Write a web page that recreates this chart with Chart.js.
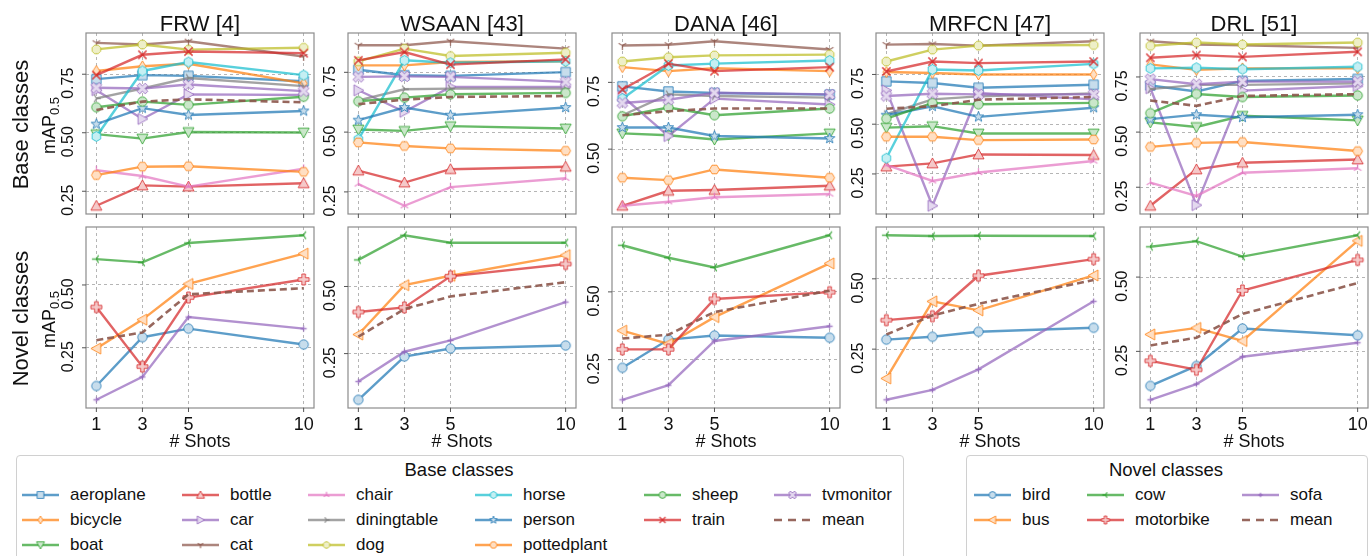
<!DOCTYPE html>
<html>
<head>
<meta charset="utf-8">
<script src="https://cdn.jsdelivr.net/npm/chart.js@4.4.1/dist/chart.umd.min.js"></script>
<style>
  body { margin: 0; width: 1369px; height: 556px; overflow: hidden; position: relative; background: #fff;
         font-family: "Liberation Sans", Arial, sans-serif; color: #111; }
  canvas.panel { position: absolute; }
  .lbox { position: absolute; border: 1px solid #d0d0d0; border-radius: 4px; background: #fff; }
  .ltxt { position: absolute; font-size: 17px; line-height: 20px; white-space: nowrap; }
  .ltitle { position: absolute; font-size: 18.5px; line-height: 22px; white-space: nowrap; text-align: center; }
  canvas.sym { position: absolute; }
</style>
</head>
<body>
<script>
// ---- data ----
const shots = [1, 3, 5, 10];
const xTickLabels = ['1', '3', '5', '10'];
const yTicks = [0.25, 0.5, 0.75];
const yTickLabels = ['0.25', '0.50', '0.75'];
const methods = ['FRW [4]', 'WSAAN [43]', 'DANA [46]', 'MRFCN [47]', 'DRL [51]'];
const baseClasses = ['aeroplane', 'bicycle', 'boat', 'bottle', 'car', 'cat', 'chair', 'diningtable',
  'dog', 'horse', 'person', 'pottedplant', 'sheep', 'train', 'tvmonitor', 'mean'];
const novelClasses = ['bird', 'bus', 'cow', 'motorbike', 'sofa', 'mean'];

// one row per base class (same order as baseClasses), values at 1/3/5/10 shots
const frwBase = [
  [0.729, 0.746, 0.743, 0.720], [0.764, 0.784, 0.795, 0.711], [0.494, 0.475, 0.503, 0.501],
  [0.188, 0.275, 0.270, 0.284], [0.682, 0.559, 0.664, 0.661], [0.884, 0.877, 0.891, 0.826],
  [0.340, 0.315, 0.270, 0.346], [0.647, 0.689, 0.734, 0.699], [0.856, 0.877, 0.855, 0.863],
  [0.484, 0.764, 0.802, 0.746], [0.537, 0.605, 0.576, 0.593], [0.319, 0.355, 0.357, 0.333],
  [0.609, 0.633, 0.619, 0.654], [0.746, 0.833, 0.847, 0.840], [0.692, 0.689, 0.706, 0.678],
  [0.597, 0.633, 0.643, 0.630]
];
const wsaanBase = [
  [0.761, 0.738, 0.735, 0.751], [0.779, 0.779, 0.793, 0.796], [0.511, 0.505, 0.525, 0.515],
  [0.339, 0.289, 0.345, 0.355], [0.675, 0.585, 0.689, 0.689], [0.863, 0.863, 0.880, 0.849],
  [0.283, 0.192, 0.270, 0.307], [0.633, 0.679, 0.682, 0.682], [0.796, 0.849, 0.818, 0.832],
  [0.470, 0.800, 0.790, 0.796], [0.550, 0.603, 0.571, 0.603], [0.457, 0.442, 0.432, 0.422],
  [0.629, 0.644, 0.658, 0.664], [0.800, 0.835, 0.782, 0.804], [0.731, 0.733, 0.731, 0.710],
  [0.617, 0.636, 0.647, 0.651]
];
const danaBase = [
  [0.735, 0.716, 0.710, 0.704], [0.807, 0.792, 0.803, 0.792], [0.559, 0.552, 0.536, 0.559],
  [0.288, 0.344, 0.347, 0.363], [0.698, 0.549, 0.689, 0.667], [0.888, 0.891, 0.904, 0.873],
  [0.288, 0.303, 0.320, 0.332], [0.627, 0.705, 0.699, 0.693], [0.828, 0.844, 0.851, 0.854],
  [0.689, 0.813, 0.820, 0.832], [0.581, 0.581, 0.549, 0.540], [0.393, 0.384, 0.424, 0.393],
  [0.623, 0.656, 0.627, 0.652], [0.723, 0.820, 0.792, 0.807], [0.673, 0.685, 0.711, 0.705],
  [0.627, 0.642, 0.652, 0.652]
];
const mrfcnBase = [
  [0.715, 0.707, 0.683, 0.698], [0.762, 0.757, 0.750, 0.750], [0.483, 0.490, 0.453, 0.453],
  [0.287, 0.303, 0.348, 0.345], [0.670, 0.090, 0.657, 0.625], [0.900, 0.903, 0.895, 0.917],
  [0.295, 0.215, 0.257, 0.315], [0.550, 0.625, 0.640, 0.655], [0.815, 0.875, 0.895, 0.898],
  [0.329, 0.775, 0.770, 0.803], [0.545, 0.590, 0.537, 0.583], [0.437, 0.437, 0.420, 0.423],
  [0.528, 0.607, 0.600, 0.607], [0.765, 0.815, 0.807, 0.815], [0.642, 0.653, 0.650, 0.650],
  [0.578, 0.590, 0.623, 0.637]
];
const drlBase = [
  [0.711, 0.684, 0.732, 0.741], [0.807, 0.782, 0.789, 0.789], [0.544, 0.523, 0.574, 0.553],
  [0.166, 0.331, 0.361, 0.376], [0.699, 0.169, 0.688, 0.709], [0.912, 0.897, 0.894, 0.882],
  [0.271, 0.211, 0.316, 0.336], [0.695, 0.714, 0.714, 0.721], [0.891, 0.906, 0.897, 0.906],
  [0.789, 0.792, 0.785, 0.796], [0.559, 0.579, 0.567, 0.579], [0.433, 0.451, 0.455, 0.414],
  [0.586, 0.673, 0.659, 0.666], [0.837, 0.849, 0.841, 0.864], [0.740, 0.717, 0.729, 0.729],
  [0.643, 0.619, 0.664, 0.672]
];

// one row per novel class (same order as novelClasses)
const frwNovel = [
  [0.098, 0.292, 0.326, 0.263], [0.247, 0.362, 0.504, 0.625], [0.603, 0.590, 0.667, 0.698],
  [0.412, 0.175, 0.450, 0.522], [0.043, 0.134, 0.372, 0.326], [0.280, 0.311, 0.463, 0.487]
];
const wsaanNovel = [
  [0.078, 0.239, 0.269, 0.280], [0.321, 0.505, 0.540, 0.617], [0.599, 0.691, 0.663, 0.663],
  [0.405, 0.422, 0.538, 0.584], [0.146, 0.257, 0.299, 0.442], [0.313, 0.416, 0.463, 0.516]
];
const danaNovel = [
  [0.220, 0.324, 0.339, 0.331], [0.357, 0.308, 0.407, 0.605], [0.672, 0.626, 0.590, 0.709],
  [0.288, 0.288, 0.474, 0.499], [0.102, 0.156, 0.319, 0.373], [0.328, 0.342, 0.426, 0.504]
];
const mrfcnNovel = [
  [0.284, 0.294, 0.312, 0.326], [0.146, 0.420, 0.388, 0.512], [0.655, 0.652, 0.653, 0.652],
  [0.353, 0.367, 0.511, 0.570], [0.070, 0.105, 0.178, 0.420], [0.302, 0.370, 0.411, 0.496]
];
const drlNovel = [
  [0.134, 0.201, 0.327, 0.304], [0.307, 0.329, 0.285, 0.622], [0.602, 0.621, 0.569, 0.641],
  [0.218, 0.188, 0.455, 0.558], [0.087, 0.140, 0.232, 0.279], [0.270, 0.296, 0.376, 0.480]
];

const baseRows = [frwBase, wsaanBase, danaBase, mrfcnBase, drlBase];
const novelRows = [frwNovel, wsaanNovel, danaNovel, mrfcnNovel, drlNovel];

// ---- styles ----
const tab = {
  blue: [31, 119, 180], orange: [255, 127, 14], green: [44, 160, 44], red: [214, 39, 40],
  purple: [148, 103, 189], brown: [140, 86, 75], pink: [227, 119, 194], gray: [127, 127, 127],
  olive: [188, 189, 34], cyan: [23, 190, 207]
};
const baseColors = ['blue', 'orange', 'green', 'red', 'purple', 'brown', 'pink', 'gray',
  'olive', 'cyan', 'blue', 'orange', 'green', 'red', 'purple', 'brown'];
const baseMarkers = ['s', 'd', 'v', '^', '>', '1', '2', '4', '8', 'h', '*', 'H', 'o', 'x', 'X', ''];
const novelColors = ['blue', 'orange', 'green', 'red', 'purple', 'brown'];
const novelMarkers = ['o', '<', '3', 'P', '+', ''];

const FONT = '"Liberation Sans", Arial, sans-serif';
const colLeft = [86, 348, 612, 876, 1140];
const rowTop = [33, 227];
const PW = 228, PH = 181;

const rgba = (c, a) => `rgba(${c[0]},${c[1]},${c[2]},${a})`;
const tint = c => `rgb(${c.map(v => Math.round(v * 0.25 + 255 * 0.75)).join(',')})`;

// small matplotlib-like markers drawn into canvases, used as Chart.js pointStyle
function marker(shape, rgb, size) {
  const s = Math.ceil(size) + 4;
  const cv = document.createElement('canvas');
  cv.width = cv.height = s;
  const g = cv.getContext('2d');
  const r = size / 2, deg = Math.PI / 180;
  g.translate(s / 2, s / 2);
  g.strokeStyle = rgba(rgb, 0.8);
  g.fillStyle = tint(rgb);
  g.lineWidth = 1;
  const poly = pts => {
    g.beginPath();
    pts.forEach(([x, y], i) => i ? g.lineTo(x, y) : g.moveTo(x, y));
    g.closePath(); g.fill(); g.stroke();
  };
  const ngon = (n, rr, rot) => poly(Array.from({length: n}, (_, i) => {
    const a = rot + i * 2 * Math.PI / n;
    return [rr * Math.cos(a), rr * Math.sin(a)];
  }));
  const arms = angles => {
    g.lineWidth = 1.3; g.beginPath();
    angles.forEach(a => { g.moveTo(0, 0); g.lineTo(r * 0.8 * Math.cos(a * deg), r * 0.8 * Math.sin(a * deg)); });
    g.stroke();
  };
  const w = r * 0.32;
  const plus = [[-w, -r], [w, -r], [w, -w], [r, -w], [r, w], [w, w], [w, r], [-w, r], [-w, w], [-r, w], [-r, -w], [-w, -w]];
  switch (shape) {
    case 's': g.beginPath(); g.rect(-r * 0.85, -r * 0.85, r * 1.7, r * 1.7); g.fill(); g.stroke(); break;
    case 'd': poly([[0, -r], [r * 0.62, 0], [0, r], [-r * 0.62, 0]]); break;
    case '^': poly([[0, -r], [r, r * 0.8], [-r, r * 0.8]]); break;
    case 'v': poly([[0, r], [r, -r * 0.8], [-r, -r * 0.8]]); break;
    case '>': poly([[r, 0], [-r * 0.8, -r], [-r * 0.8, r]]); break;
    case '<': poly([[-r, 0], [r * 0.8, -r], [r * 0.8, r]]); break;
    case 'o': g.beginPath(); g.arc(0, 0, r * 0.85, 0, 2 * Math.PI); g.fill(); g.stroke(); break;
    case '8': ngon(8, r * 0.85, 22.5 * deg); break;
    case 'h': ngon(6, r * 0.9, -90 * deg); break;
    case 'H': ngon(6, r * 0.9, 0); break;
    case '*': poly(Array.from({length: 10}, (_, i) => {
      const a = -90 * deg + i * 36 * deg, rr = i % 2 ? r * 0.42 : r;
      return [rr * Math.cos(a), rr * Math.sin(a)];
    })); break;
    case 'x':
      g.lineWidth = 1.5; g.beginPath();
      g.moveTo(-r * 0.75, -r * 0.75); g.lineTo(r * 0.75, r * 0.75);
      g.moveTo(r * 0.75, -r * 0.75); g.lineTo(-r * 0.75, r * 0.75);
      g.stroke(); break;
    case 'X': poly(plus.map(([x, y]) => [(x - y) * 0.74, (x + y) * 0.74])); break;
    case 'P': poly(plus); break;
    case '+':
      g.lineWidth = 1.3; g.beginPath();
      g.moveTo(-r * 0.55, 0); g.lineTo(r * 0.55, 0); g.moveTo(0, -r * 0.55); g.lineTo(0, r * 0.55);
      g.stroke(); break;
    case '1': arms([90, 210, 330]); break;
    case '2': arms([270, 30, 150]); break;
    case '3': arms([180, 300, 60]); break;
    case '4': arms([0, 120, 240]); break;
  }
  return cv;
}

function makeDatasets(rows, names, colors, markers) {
  return rows.map((vals, i) => {
    const rgb = tab[colors[i]];
    const isMean = names[i] === 'mean';
    return {
      label: names[i],
      data: shots.map((s, j) => ({x: s, y: vals[j]})),
      borderColor: rgba(rgb, isMean ? 0.9 : 0.72),
      borderWidth: isMean ? 2.6 : 2.4,
      borderDash: isMean ? [7, 4] : [],
      pointStyle: markers[i] ? marker(markers[i], rgb, 11) : 'circle',
      pointRadius: markers[i] ? 4 : 0,
      tension: 0,
      fill: false,
      clip: false,
      order: rows.length - i
    };
  });
}

function yRange(rows) {
  const all = rows.flat();
  const lo = Math.min(...all), hi = Math.max(...all), m = (hi - lo) * 0.05;
  return [lo - m, hi + m];
}

// frame, outside tick marks, rotated y tick labels, titles and axis texts
const decor = {
  id: 'decor',
  afterDraw(chart, args, o) {
    const {ctx, chartArea: a, scales: {x, y}} = chart;
    ctx.save();
    ctx.strokeStyle = '#8c8c8c'; ctx.lineWidth = 1.2;
    ctx.strokeRect(a.left, a.top, a.right - a.left, a.bottom - a.top);
    ctx.strokeStyle = '#555'; ctx.lineWidth = 1;
    ctx.beginPath();
    y.ticks.forEach(t => { const py = y.getPixelForValue(t.value); ctx.moveTo(a.left - 4, py); ctx.lineTo(a.left, py); });
    x.ticks.forEach(t => { const px = x.getPixelForValue(t.value); ctx.moveTo(px, a.bottom); ctx.lineTo(px, a.bottom + 4); });
    ctx.stroke();

    ctx.fillStyle = '#111';
    ctx.textAlign = 'center';
    ctx.textBaseline = 'alphabetic';
    ctx.font = '16px ' + FONT;
    y.ticks.forEach(t => {
      const py = y.getPixelForValue(t.value);
      ctx.save();
      ctx.translate(a.left - 13, py + 9);
      ctx.rotate(-Math.PI / 2);
      ctx.fillText(yTickLabels[yTicks.indexOf(t.value)], 0, 0);
      ctx.restore();
    });
    const cx = (a.left + a.right) / 2, cy = (a.top + a.bottom) / 2;
    if (o.title) {
      ctx.font = '22px ' + FONT;
      ctx.fillText(o.title, cx, a.top - 2);
    }
    if (o.xlabels) {
      ctx.font = '18px ' + FONT;
      x.ticks.forEach((t, i) => ctx.fillText(xTickLabels[i], x.getPixelForValue(t.value), a.bottom + 22));
      ctx.fillText('# Shots', cx, a.bottom + 39);
    }
    if (o.rowLabel) {
      ctx.save();
      ctx.translate(a.left - 58, cy + 1);
      ctx.rotate(-Math.PI / 2);
      ctx.font = '22px ' + FONT;
      ctx.fillText(o.rowLabel, 0, 0);
      ctx.restore();

      ctx.save();
      ctx.translate(a.left - 31, cy + 2);
      ctx.rotate(-Math.PI / 2);
      ctx.textAlign = 'left';
      ctx.font = '18px ' + FONT;
      const w1 = ctx.measureText('mAP').width;
      ctx.font = '13px ' + FONT;
      const w2 = ctx.measureText('0.5').width;
      const x0 = -(w1 + w2) / 2;
      ctx.font = '18px ' + FONT;
      ctx.fillText('mAP', x0, 0);
      ctx.font = '13px ' + FONT;
      ctx.fillText('0.5', x0 + w1, 4);
      ctx.restore();
    }
    ctx.restore();
  }
};

function panel(r, c, rows, names, colors, markers) {
  const L = colLeft[c], T = rowTop[r];
  const padL = c === 0 ? L : 34;
  const padT = r === 0 ? T : 8;
  const padB = r === 0 ? 8 : 45;
  const padR = 8;
  const cv = document.createElement('canvas');
  cv.className = 'panel';
  cv.width = padL + PW + padR;
  cv.height = padT + PH + padB;
  cv.style.left = (L - padL) + 'px';
  cv.style.top = (T - padT) + 'px';
  document.body.appendChild(cv);
  const [ymin, ymax] = yRange(rows);
  const grid = {color: '#a3a3a3', lineWidth: 0.8, drawTicks: false};
  const border = {display: false, dash: [3, 3]};
  new Chart(cv, {
    type: 'line',
    data: {datasets: makeDatasets(rows, names, colors, markers)},
    options: {
      responsive: false,
      animation: false,
      devicePixelRatio: 1,
      events: [],
      layout: {padding: {left: padL, top: padT, right: padR, bottom: padB}, autoPadding: false},
      plugins: {
        legend: {display: false},
        tooltip: {enabled: false},
        decor: {
          title: r === 0 ? methods[c] : null,
          xlabels: r === 1,
          rowLabel: c === 0 ? (r === 0 ? 'Base classes' : 'Novel classes') : null
        }
      },
      scales: {
        x: {
          type: 'linear', min: 0.55, max: 10.45,
          afterBuildTicks: s => { s.ticks = shots.map(v => ({value: v})); },
          ticks: {display: false}, grid, border
        },
        y: {
          type: 'linear', min: ymin, max: ymax,
          afterBuildTicks: s => { s.ticks = yTicks.filter(v => v > s.min && v < s.max).map(v => ({value: v})); },
          ticks: {display: false}, grid, border
        }
      }
    },
    plugins: [decor]
  });
}

for (let c = 0; c < 5; c++) {
  panel(0, c, baseRows[c], baseClasses, baseColors, baseMarkers);
  panel(1, c, novelRows[c], novelClasses, novelColors, novelMarkers);
}

// ---- legends (column-major like matplotlib) ----
function legend(box, title, names, colors, markers, colX, colSizes) {
  const b = document.createElement('div');
  b.className = 'lbox';
  Object.assign(b.style, {left: box[0] + 'px', top: box[1] + 'px', width: box[2] + 'px', height: box[3] + 'px'});
  document.body.appendChild(b);
  const t = document.createElement('div');
  t.className = 'ltitle';
  t.textContent = title;
  Object.assign(t.style, {left: box[0] + 'px', width: box[2] + 'px', top: '459px'});
  document.body.appendChild(t);
  const rowY = [495, 520, 545];
  let k = 0;
  colSizes.forEach((n, col) => {
    for (let row = 0; row < n; row++, k++) {
      const rgb = tab[colors[k]];
      const sym = document.createElement('canvas');
      sym.className = 'sym';
      sym.width = 40; sym.height = 16;
      sym.style.left = colX[col] + 'px';
      sym.style.top = (rowY[row] - 8) + 'px';
      const g = sym.getContext('2d');
      const isMean = names[k] === 'mean';
      g.strokeStyle = rgba(rgb, isMean ? 0.9 : 0.72);
      g.lineWidth = isMean ? 2.6 : 2.4;
      g.setLineDash(isMean ? [8, 6] : []);
      g.beginPath(); g.moveTo(1, 8); g.lineTo(38, 8); g.stroke();
      if (markers[k]) {
        const m = marker(markers[k], rgb, 8);
        g.drawImage(m, 19.5 - m.width / 2, 8 - m.height / 2);
      }
      document.body.appendChild(sym);
      const tx = document.createElement('div');
      tx.className = 'ltxt';
      tx.textContent = names[k];
      tx.style.left = (colX[col] + 49) + 'px';
      tx.style.top = (rowY[row] - 10.5) + 'px';
      document.body.appendChild(tx);
    }
  });
}

legend([16, 455, 886, 120], 'Base classes', baseClasses, baseColors, baseMarkers,
  [21, 181, 307, 474, 643, 773], [3, 3, 3, 3, 2, 2]);
legend([966, 455, 400, 120], 'Novel classes', novelClasses, novelColors, novelMarkers,
  [973, 1086, 1241], [2, 2, 2]);
</script>
</body>
</html>
